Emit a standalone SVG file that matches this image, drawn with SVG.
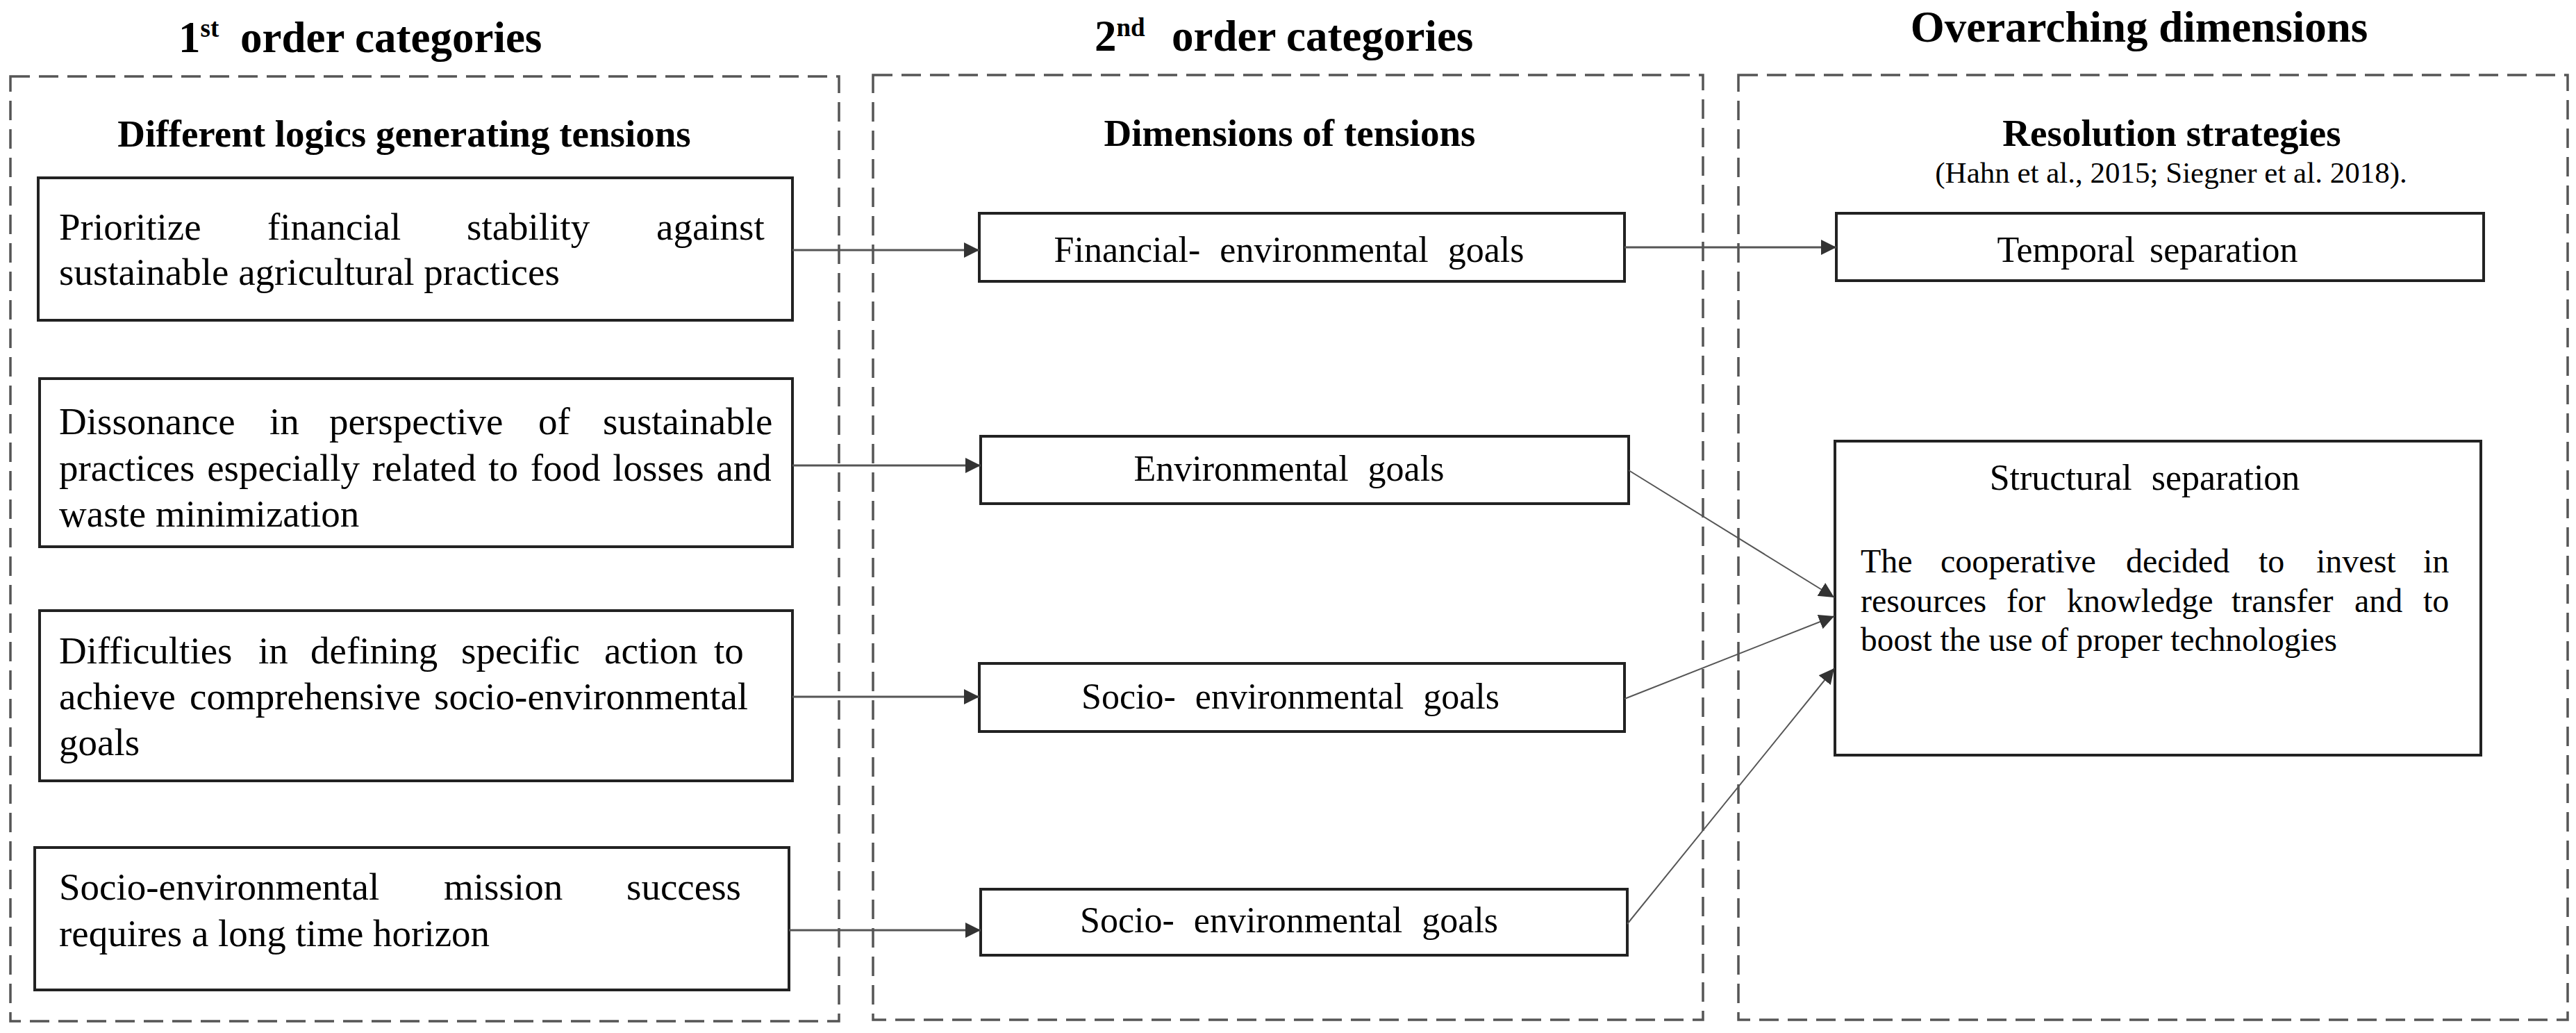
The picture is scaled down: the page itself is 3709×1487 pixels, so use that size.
<svg xmlns="http://www.w3.org/2000/svg" width="3709" height="1487" viewBox="0 0 3709 1487">
<style>
.t{font-family:"Liberation Serif","Times New Roman",serif;fill:#000}
.title{font-size:63px;font-weight:bold}
.sup{font-size:37px;font-weight:bold}
.sub{font-size:55px;font-weight:bold}
.body{font-size:55px}
.lbl{font-size:52px;word-spacing:15px}
.para{font-size:48px}
.cite{font-size:43px}
.grp{fill:none;stroke:#555;stroke-width:3.5;stroke-dasharray:28 13}
.box{fill:#fff;stroke:#222;stroke-width:4}
.conn{stroke:#555;stroke-width:3;fill:none}
.diag{stroke:#555;stroke-width:2;fill:none}
</style>
<defs>
<marker id="ah" markerWidth="24" markerHeight="24" refX="22" refY="11" orient="auto" markerUnits="userSpaceOnUse">
<path d="M0,0 L22,11 L0,22 Z" fill="#333"/>
</marker>
</defs>
<rect width="3709" height="1487" fill="#fff"/>

<g id="column1">
<text class="t title" x="257" y="75">1<tspan class="sup" dy="-22">st</tspan><tspan x="346" dy="22">order categories</tspan></text>
<rect class="grp" x="15" y="110" width="1193" height="1360"/>
<text class="t sub" x="582" y="211" text-anchor="middle">Different logics generating tensions</text>
</g>

<g id="column2">
<text class="t title" x="1576" y="73">2<tspan class="sup" dy="-21">nd</tspan><tspan x="1687" dy="21">order categories</tspan></text>
<rect class="grp" x="1257" y="108" width="1195" height="1360"/>
<text class="t sub" x="1857" y="210" text-anchor="middle">Dimensions of tensions</text>
</g>

<g id="column3">
<text class="t title" x="3080" y="60" text-anchor="middle">Overarching dimensions</text>
<rect class="grp" x="2503" y="108" width="1194" height="1360"/>
<text class="t sub" x="3127" y="210" text-anchor="middle">Resolution strategies</text>
<text class="t cite" x="3126" y="263" text-anchor="middle">(Hahn et al., 2015; Siegner et al. 2018).</text>
</g>

<g id="logic1">
<rect class="box" x="55" y="256" width="1086" height="205"/>
<text class="t body" y="345"><tspan x="85">Prioritize</tspan><tspan x="385">financial</tspan><tspan x="672">stability</tspan><tspan x="945">against</tspan></text>
<text class="t body" x="85" y="410">sustainable agricultural practices</text>
</g>

<g id="logic2">
<rect class="box" x="57" y="545" width="1084" height="242"/>
<text class="t body" y="625"><tspan x="85">Dissonance</tspan><tspan x="388">in</tspan><tspan x="474">perspective</tspan><tspan x="775">of</tspan><tspan x="868">sustainable</tspan></text>
<text class="t body" x="85" y="692" word-spacing="4">practices especially related to food losses and</text>
<text class="t body" x="85" y="758">waste minimization</text>
</g>

<g id="logic3">
<rect class="box" x="57" y="879" width="1084" height="245"/>
<text class="t body" y="955"><tspan x="85">Difficulties</tspan><tspan x="372">in</tspan><tspan x="447">defining</tspan><tspan x="664">specific</tspan><tspan x="870">action</tspan><tspan x="1028">to</tspan></text>
<text class="t body" y="1021"><tspan x="85">achieve</tspan><tspan x="273">comprehensive</tspan><tspan x="625">socio-environmental</tspan></text>
<text class="t body" x="85" y="1087">goals</text>
</g>

<g id="logic4">
<rect class="box" x="50" y="1220" width="1086" height="205"/>
<text class="t body" y="1295"><tspan x="85">Socio-environmental</tspan><tspan x="639">mission</tspan><tspan x="902">success</tspan></text>
<text class="t body" x="85" y="1362">requires a long time horizon</text>
</g>

<g id="dim1">
<rect class="box" x="1410" y="307" width="929" height="98"/>
<text class="t lbl" x="1856" y="377" text-anchor="middle">Financial- environmental goals</text>
</g>

<g id="dim2">
<rect class="box" x="1412" y="628" width="933" height="97"/>
<text class="t lbl" x="1856" y="692" text-anchor="middle">Environmental goals</text>
</g>

<g id="dim3">
<rect class="box" x="1410" y="955" width="929" height="98"/>
<text class="t lbl" x="1858" y="1020" text-anchor="middle">Socio- environmental goals</text>
</g>

<g id="dim4">
<rect class="box" x="1412" y="1280" width="931" height="95"/>
<text class="t lbl" x="1856" y="1342" text-anchor="middle">Socio- environmental goals</text>
</g>

<g id="temporal">
<rect class="box" x="2644" y="307" width="932" height="97"/>
<text class="t lbl" x="3092" y="377" text-anchor="middle" style="word-spacing:8px">Temporal separation</text>
</g>

<g id="structural">
<rect class="box" x="2642" y="635" width="930" height="452"/>
<text class="t lbl" x="3088" y="705" text-anchor="middle">Structural separation</text>
<text class="t para" y="824"><tspan x="2679">The</tspan><tspan x="2794">cooperative</tspan><tspan x="3061">decided</tspan><tspan x="3252">to</tspan><tspan x="3335">invest</tspan><tspan x="3489">in</tspan></text>
<text class="t para" y="881"><tspan x="2679">resources</tspan><tspan x="2889">for</tspan><tspan x="2976">knowledge</tspan><tspan x="3213">transfer</tspan><tspan x="3390">and</tspan><tspan x="3489">to</tspan></text>
<text class="t para" x="2679" y="937" textLength="686" lengthAdjust="spacingAndGlyphs">boost the use of proper technologies</text>
</g>

<g id="connectors">
<line class="conn" x1="1141" y1="360" x2="1410" y2="360" marker-end="url(#ah)"/>
<line class="conn" x1="2339" y1="356" x2="2644" y2="356" marker-end="url(#ah)"/>
<line class="conn" x1="1141" y1="670" x2="1412" y2="670" marker-end="url(#ah)"/>
<line class="conn" x1="1141" y1="1003" x2="1410" y2="1003" marker-end="url(#ah)"/>
<line class="conn" x1="1136" y1="1339" x2="1412" y2="1339" marker-end="url(#ah)"/>
<line class="diag" x1="2345" y1="677" x2="2641" y2="860" marker-end="url(#ah)"/>
<line class="diag" x1="2339" y1="1006" x2="2641" y2="887" marker-end="url(#ah)"/>
<line class="diag" x1="2343" y1="1330" x2="2641" y2="962" marker-end="url(#ah)"/>
</g>
</svg>
